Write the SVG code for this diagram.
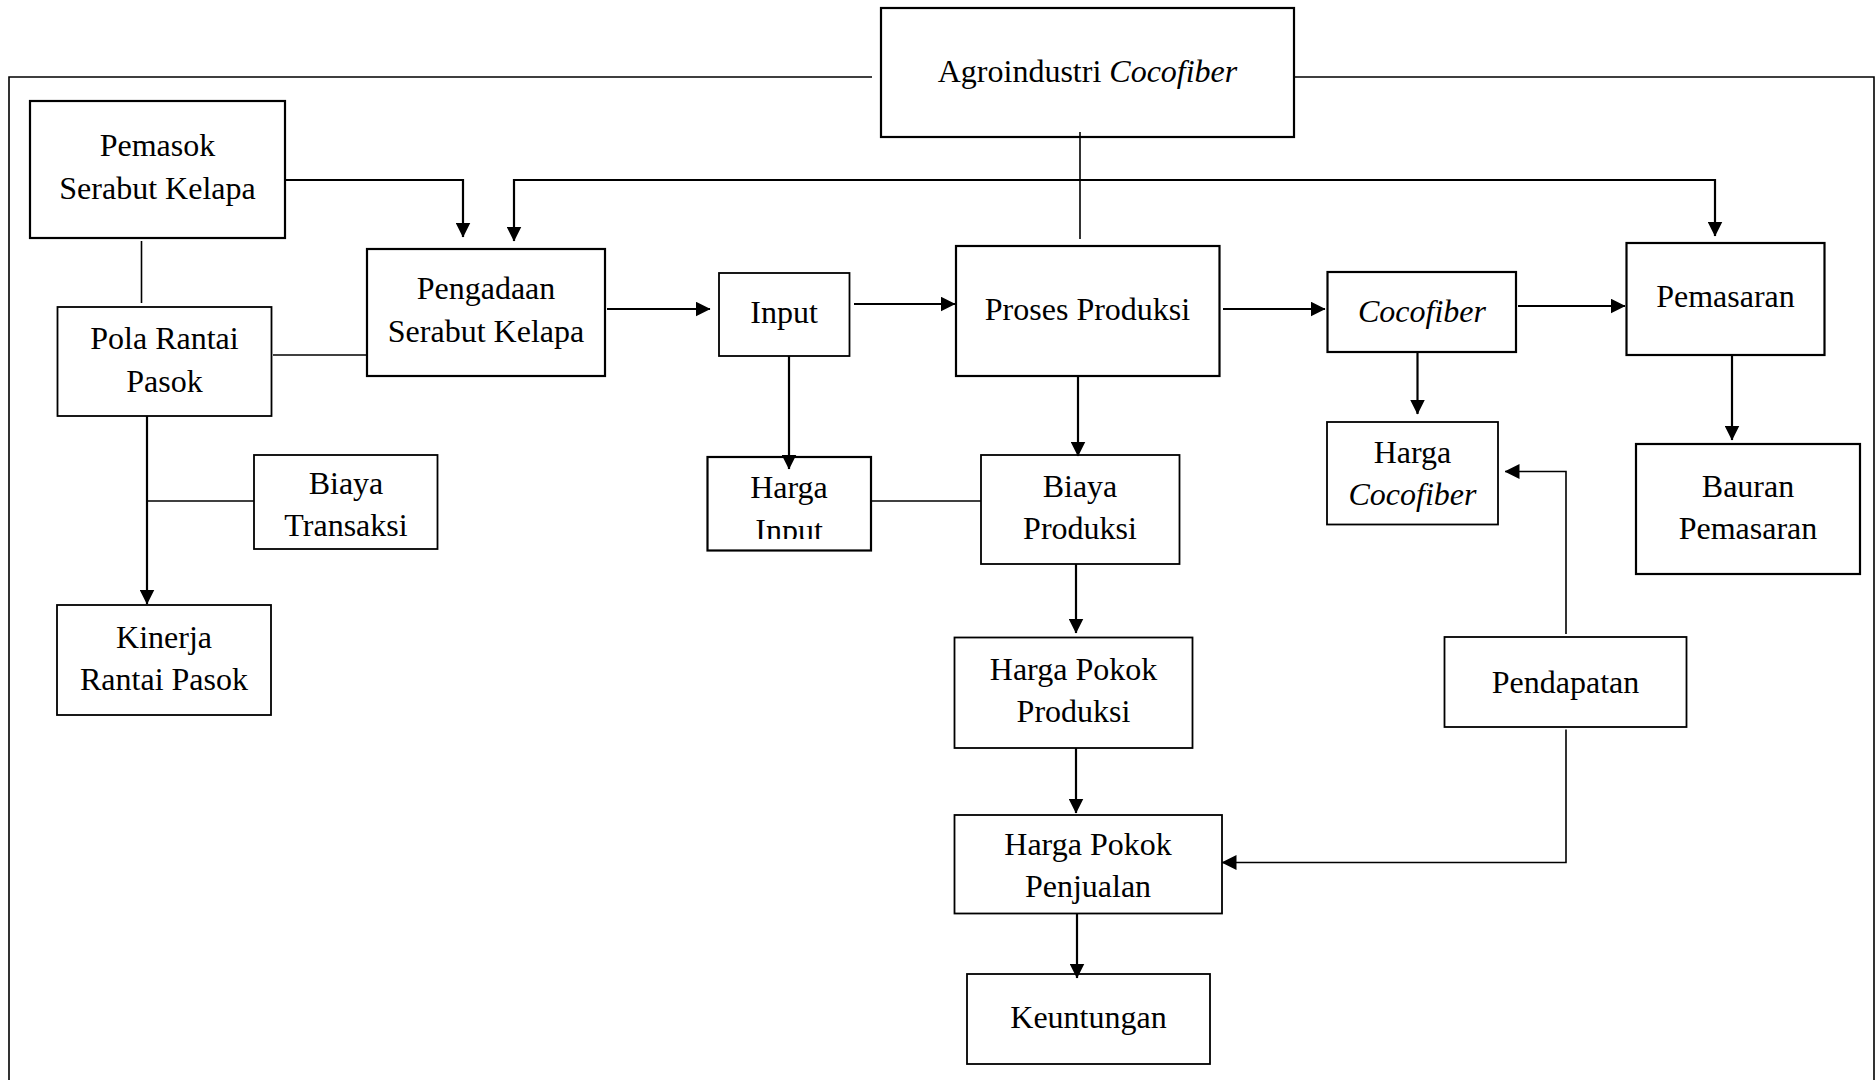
<svg xmlns="http://www.w3.org/2000/svg" width="1876" height="1080" viewBox="0 0 1876 1080">
<style>
  .box{fill:#fff;stroke:#000;stroke-width:2.2}
  .thin{stroke-width:1.8}
  .t{font-family:"Liberation Serif","Times New Roman",serif;font-size:32px;fill:#000;text-anchor:middle}
  .i{font-style:italic}
  .c{fill:none;stroke:#000;stroke-width:2.2}
  .cl{fill:none;stroke:#000;stroke-width:1.6}
  .a{marker-end:url(#arr)}
</style>
<defs>
  <marker id="arr" markerUnits="userSpaceOnUse" markerWidth="15" markerHeight="15" refX="14.5" refY="7.5" orient="auto" viewBox="0 0 15 15">
    <path d="M0,0 L15,7.5 L0,15 z" fill="#000"/>
  </marker>
  <clipPath id="clipHI"><rect x="707" y="455" width="166" height="84"/></clipPath>
</defs>
<rect width="1876" height="1080" fill="#fff"/>

<g id="agroindustri">
  <rect class="box" x="881" y="8" width="413" height="129"/>
  <text class="t" x="1087.5" y="82">Agroindustri <tspan class="i">Cocofiber</tspan></text>
</g>
<g id="pemasok">
  <rect class="box" x="30" y="101" width="255" height="137"/>
  <text class="t" x="157.5" y="156">Pemasok</text>
  <text class="t" x="157.5" y="199">Serabut Kelapa</text>
</g>
<g id="pengadaan">
  <rect class="box" x="367" y="249" width="238" height="127"/>
  <text class="t" x="486" y="299">Pengadaan</text>
  <text class="t" x="486" y="342">Serabut Kelapa</text>
</g>
<g id="pola">
  <rect class="box thin" x="57.5" y="307" width="214" height="109"/>
  <text class="t" x="164.5" y="349">Pola Rantai</text>
  <text class="t" x="164.5" y="392">Pasok</text>
</g>
<g id="input">
  <rect class="box thin" x="719" y="273" width="130.5" height="83"/>
  <text class="t" x="784" y="323">Input</text>
</g>
<g id="proses">
  <rect class="box" x="956" y="246" width="263.5" height="130"/>
  <text class="t" x="1087.5" y="320">Proses Produksi</text>
</g>
<g id="cocofiber">
  <rect class="box" x="1327.5" y="272" width="188.5" height="80"/>
  <text class="t i" x="1422" y="322">Cocofiber</text>
</g>
<g id="pemasaran">
  <rect class="box" x="1626.5" y="243" width="198" height="112"/>
  <text class="t" x="1725.5" y="307">Pemasaran</text>
</g>
<g id="biaya-transaksi">
  <rect class="box thin" x="254" y="455" width="183.5" height="94"/>
  <text class="t" x="346" y="494">Biaya</text>
  <text class="t" x="346" y="536">Transaksi</text>
</g>
<g id="harga-input">
  <rect class="box" x="707.5" y="457" width="163.5" height="93.5"/>
  <g clip-path="url(#clipHI)">
    <text class="t" x="789" y="498">Harga</text>
    <text class="t" x="789" y="541">Input</text>
  </g>
</g>
<g id="biaya-produksi">
  <rect class="box thin" x="981" y="455" width="198.5" height="109"/>
  <text class="t" x="1080" y="497">Biaya</text>
  <text class="t" x="1080" y="539">Produksi</text>
</g>
<g id="harga-cocofiber">
  <rect class="box thin" x="1327" y="422" width="171" height="102.5"/>
  <text class="t" x="1412.5" y="463">Harga</text>
  <text class="t i" x="1412.5" y="505">Cocofiber</text>
</g>
<g id="bauran">
  <rect class="box" x="1636" y="444" width="224" height="130"/>
  <text class="t" x="1748" y="497">Bauran</text>
  <text class="t" x="1748" y="539">Pemasaran</text>
</g>
<g id="kinerja">
  <rect class="box thin" x="57" y="605" width="214" height="110"/>
  <text class="t" x="164" y="648">Kinerja</text>
  <text class="t" x="164" y="690">Rantai Pasok</text>
</g>
<g id="hpp">
  <rect class="box thin" x="954.5" y="637.5" width="238" height="110.5"/>
  <text class="t" x="1073.5" y="680">Harga Pokok</text>
  <text class="t" x="1073.5" y="722">Produksi</text>
</g>
<g id="pendapatan">
  <rect class="box thin" x="1444.5" y="637" width="242" height="90"/>
  <text class="t" x="1565.5" y="693">Pendapatan</text>
</g>
<g id="hp-penjualan">
  <rect class="box thin" x="954.5" y="815" width="267.5" height="98.5"/>
  <text class="t" x="1088" y="855">Harga Pokok</text>
  <text class="t" x="1088" y="897">Penjualan</text>
</g>
<g id="keuntungan">
  <rect class="box thin" x="967" y="974" width="243" height="90"/>
  <text class="t" x="1088.5" y="1028">Keuntungan</text>
</g>

<g id="connectors">
  <path class="cl" d="M872,77 H9 V1080"/>
  <path class="cl" d="M1294,77 H1874 V1080"/>
  <path class="cl" d="M1080,132 V239"/>
  <path class="c a" d="M285,180 H463 V237"/>
  <path class="c a" d="M1080,180 H514 V241"/>
  <path class="c a" d="M1080,180 H1715 V236"/>
  <path class="cl" d="M141.5,241 V303"/>
  <path class="cl" d="M273,355 H367"/>
  <path class="c a" d="M607,309 H710"/>
  <path class="c a" d="M854,304 H955"/>
  <path class="c a" d="M1223,309 H1325"/>
  <path class="c a" d="M1518,306 H1625"/>
  <path class="c a" d="M789,356 V469"/>
  <path class="cl" d="M871,501 H981"/>
  <path class="c a" d="M147,416 V604"/>
  <path class="cl" d="M147,501 H254"/>
  <path class="c a" d="M1078,376 V456"/>
  <path class="c a" d="M1076,564 V633"/>
  <path class="c a" d="M1076,748 V813"/>
  <path class="c a" d="M1077,914 V978"/>
  <path class="c a" d="M1417.5,352 V414"/>
  <path class="c a" d="M1732,355 V440"/>
  <path class="cl a" d="M1566,634 V471.5 H1505"/>
  <path class="cl a" d="M1566,729.5 V862.5 H1222"/>
</g>
</svg>
